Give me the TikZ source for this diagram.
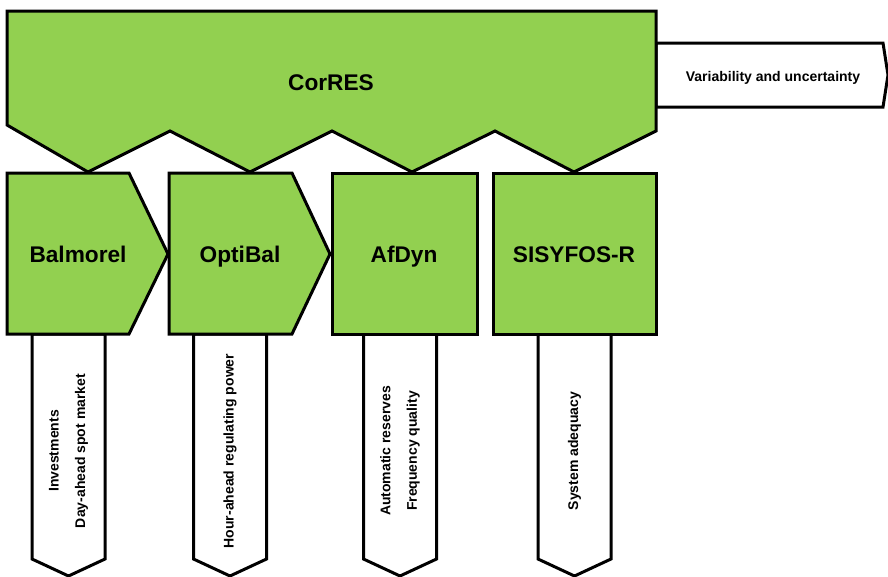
\documentclass[tikz,border=0pt]{standalone}
\usepackage{fontspec}
\setmainfont{Liberation Sans}
\usetikzlibrary{positioning}
\definecolor{modgreen}{HTML}{92D050}

\begin{document}
\begin{tikzpicture}[x=0.75pt, y=-0.75pt, line width=2.25pt, line join=miter,
    greenshape/.style={draw, fill=modgreen},
    outshape/.style={draw, fill=white},
    modlabel/.style={anchor=base, font=\bfseries\fontsize{17}{20}\selectfont},
    outlabel/.style={rotate=90, align=center, font=\bfseries\fontsize{10.5}{20}\selectfont}]
    \useasboundingbox (0,0) rectangle (888,576);

    % output arrows below the models
    \foreach \cx in {68.5, 230, 400, 574.5}
        \draw[outshape] (\cx-36.5,334) -- (\cx-36.5,559) -- (\cx,576) -- (\cx+36.5,559) -- (\cx+36.5,334) -- cycle;

    % side arrow out of CorRES
    \draw[outshape] (656,43) -- (883,43) -- (888,75) -- (883,107) -- (656,107) -- cycle;

    % CorRES
    \draw[greenshape] (7,11) -- (656,11) -- (656,131) -- (574,172) -- (495,131) -- (412,172)
        -- (332,131) -- (250,172) -- (170,131) -- (88,172) -- (7,125) -- cycle;

    % models
    \draw[greenshape] (7,173) -- (129,173) -- (168,254) -- (129,334) -- (7,334) -- cycle;
    \draw[greenshape] (169,173) -- (292,173) -- (330,254) -- (292,334) -- (169,334) -- cycle;
    \draw[greenshape] (332,173) rectangle (477,334);
    \draw[greenshape] (493,173) rectangle (656,334);

    \node[modlabel] (corres) at (331,90.5) {CorRES};
    \node[modlabel] (balmorel) at (78,262) {Balmorel};
    \node[modlabel] (optibal) at (240,262) {OptiBal};
    \node[modlabel] (afdyn) at (404,262) {AfDyn};
    \node[modlabel] (sisyfos) at (574,262) {SISYFOS-R};

    \node[anchor=base, font=\bfseries\fontsize{10.5}{12}\selectfont] (variab) at (773,81) {Variability and uncertainty};

    \node[outlabel] (balout) at (68.5,451) {Investments\\Day-ahead spot market};
    \node[outlabel] (optout) at (230,451) {Hour-ahead regulating power};
    \node[outlabel] (afout) at (400,451) {Automatic reserves\\Frequency quality};
    \node[outlabel] (sisout) at (574.5,451) {System adequacy};
\end{tikzpicture}
\end{document}
